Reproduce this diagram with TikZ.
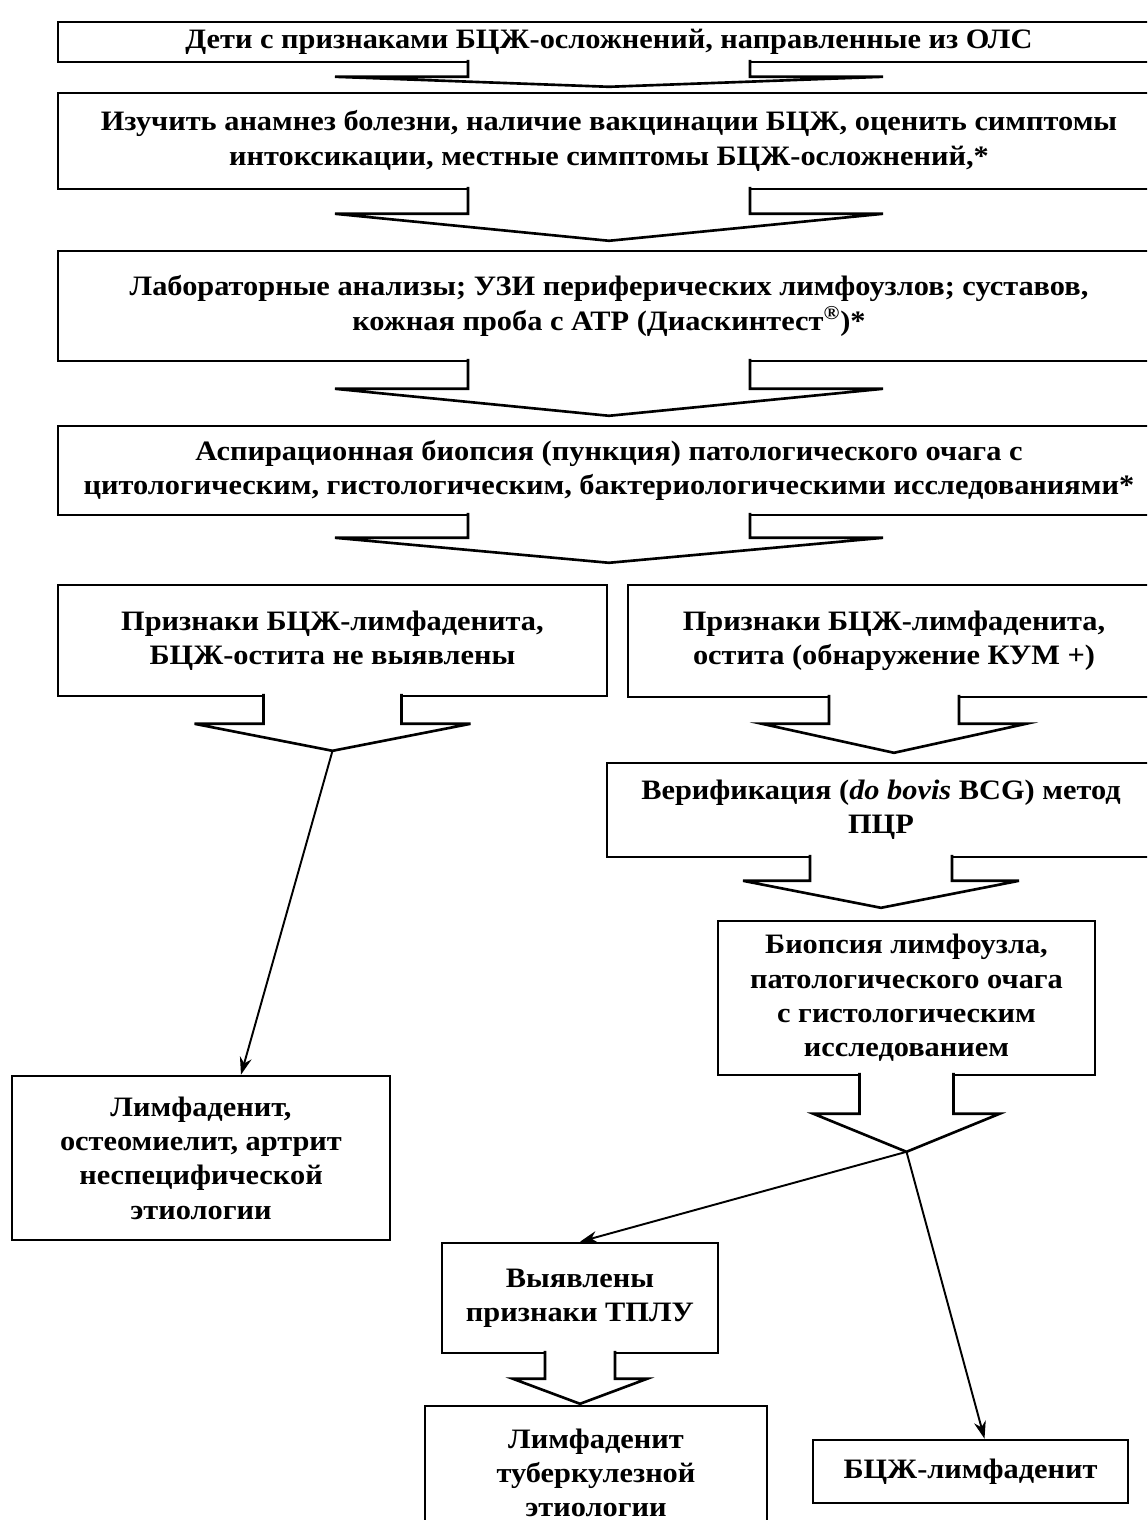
\documentclass[tikz,border=0pt]{standalone}
\usepackage{fontspec}
\setmainfont{Liberation Serif}[FakeStretch=1.08]
\usetikzlibrary{positioning,arrows.meta}

\newcommand{\blockarrow}[5]{%
 \filldraw[barrow] ([yshift=2pt]#1.south) ++(-#2,0) -- ++(0,#4) -- ++(#2-#3,0) -- ++(#3,#5) coordinate (#1 tip) -- ++(#3,-#5) -- ++(#2-#3,0) -- ++(0,-#4);
}

\begin{document}
\begin{tikzpicture}[x=0.02cm,y=-0.02cm,
 box/.style={draw,line width=1.5pt,align=center,inner sep=0pt,font=\bfseries\fontsize{16}{19.5}\selectfont},
 barrow/.style={draw,fill=white,line width=1.5pt,line join=miter},
 link/.style={-{Stealth[length=3.5mm,width=2.4mm]},line width=1.1pt}]
 \useasboundingbox (0,0) rectangle (1147,1520);
 \clip (0,0) rectangle (1147,1520);
 \node[box,minimum width=22.04cm,minimum height=0.8cm] (start) at (609,42) {Дети с признаками БЦЖ-осложнений, направленные из ОЛС};
 \node[box,minimum width=22.04cm,minimum height=1.92cm] (anam) at (609,141) {Изучить анамнез болезни, наличие вакцинации БЦЖ, оценить симптомы\\интоксикации, местные симптомы БЦЖ-осложнений,*};
 \node[box,minimum width=22.04cm,minimum height=2.2cm] (lab) at (609,306) {Лабораторные анализы; УЗИ периферических лимфоузлов; суставов,\\кожная проба с АТР (Диаскинтест\textsuperscript{®})*};
 \node[box,minimum width=22.04cm,minimum height=1.78cm] (asp) at (609,470.5) {Аспирационная биопсия (пункция) патологического очага с\\цитологическим, гистологическим, бактериологическими исследованиями*};
 \node[box,minimum width=10.98cm,minimum height=2.22cm] (neg) at (332.5,640.5) {Признаки БЦЖ-лимфаденита,\\БЦЖ-остита не выявлены};
 \node[box,minimum width=10.64cm,minimum height=2.24cm] (pos) at (894,641) {Признаки БЦЖ-лимфаденита,\\остита (обнаружение КУМ +)};
 \node[box,minimum width=10.96cm,minimum height=1.88cm] (verif) at (881,810) {Верификация (\textit{do bovis} BCG) метод\\ПЦР};
 \node[box,minimum width=7.54cm,minimum height=3.08cm] (biop) at (906.5,998) {Биопсия лимфоузла,\\патологического очага\\с гистологическим\\исследованием};
 \node[box,minimum width=7.56cm,minimum height=3.28cm] (nonspec) at (201,1158) {Лимфаденит,\\остеомиелит, артрит\\неспецифической\\этиологии};
 \node[box,minimum width=5.52cm,minimum height=2.2cm] (tplu) at (580,1298) {Выявлены\\признаки ТПЛУ};
 \node[box,minimum width=6.84cm,minimum height=2.68cm] (tub) at (596,1473) {Лимфаденит\\туберкулезной\\этиологии};
 \node[box,minimum width=6.3cm,minimum height=1.26cm] (bcg) at (970.5,1471.5) {БЦЖ-лимфаденит};

 \blockarrow{start}{141}{274}{17}{10}
 \blockarrow{anam}{141}{274}{27}{27}
 \blockarrow{lab}{141}{274}{30}{27}
 \blockarrow{asp}{141}{274}{25}{25}
 \blockarrow{neg}{69}{138}{30}{27}
 \blockarrow{pos}{65}{132}{29}{29}
 \blockarrow{verif}{71}{138}{26}{27}
 \blockarrow{biop}{47}{93}{41}{38}
 \blockarrow{tplu}{35}{67}{28}{25}

 \draw[link] (neg tip) -- ([xshift=0.8cm]nonspec.north);
 \draw[link] (biop tip) -- (tplu.north);
 \draw[link] (biop tip) -- ([xshift=0.28cm]bcg.north);
\end{tikzpicture}
\end{document}
